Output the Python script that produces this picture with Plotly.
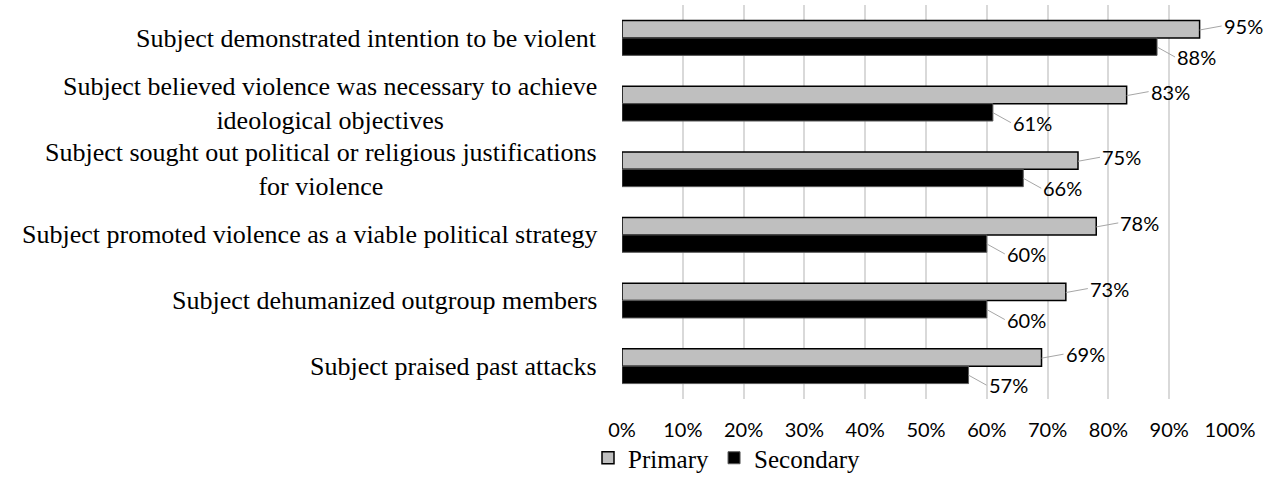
import plotly.graph_objects as go

categories = [
    "Subject demonstrated intention to be violent",
    "Subject believed violence was necessary to achieve<br>ideological objectives",
    "Subject sought out political or religious justifications<br>for violence",
    "Subject promoted violence as a viable political strategy",
    "Subject dehumanized outgroup members",
    "Subject praised past attacks",
]
primary = [95, 83, 75, 78, 73, 69]
secondary = [88, 61, 66, 60, 60, 57]
tick_vals = [0, 10, 20, 30, 40, 50, 60, 70, 80, 90, 100]
tick_text = [f"{v}%" for v in tick_vals]

fig = go.Figure()
fig.add_trace(go.Bar(
    name="Primary", y=categories, x=primary, orientation="h",
    marker=dict(color="#BFBFBF", line=dict(color="#000000", width=1.5)),
))
fig.add_trace(go.Bar(
    name="Secondary", y=categories, x=secondary, orientation="h",
    marker=dict(color="#000000", line=dict(color="#595959", width=1)),
))

sans = "Lato, Liberation Sans, sans-serif"
serif = "Liberation Serif, Times New Roman, serif"

annotations = []
for cat, p, s in zip(categories, primary, secondary):
    annotations.append(dict(
        x=p, y=cat, xref="x", yref="y", yshift=8, text=f"{p}%",
        showarrow=True, arrowhead=0, arrowwidth=1, arrowcolor="#A6A6A6",
        ax=22, ay=-4, xanchor="left", font=dict(family=sans, size=20, color="#000"),
    ))
    annotations.append(dict(
        x=s, y=cat, xref="x", yref="y", yshift=-9, text=f"{s}%",
        showarrow=True, arrowhead=0, arrowwidth=1, arrowcolor="#A6A6A6",
        ax=18, ay=10, xanchor="left", font=dict(family=sans, size=20, color="#000"),
    ))
    annotations.append(dict(
        x=0, y=cat, xref="paper", yref="y", xshift=-23, text=cat,
        showarrow=False, xanchor="right", align="center",
        font=dict(family=serif, size=26, color="#000"),
    ))

fig.update_layout(
    width=1280, height=496,
    margin=dict(l=622, r=50, t=5, b=97, autoexpand=False),
    paper_bgcolor="white", plot_bgcolor="white",
    barmode="group", bargap=0.47, bargroupgap=0,
    showlegend=True,
    legend=dict(orientation="h", x=588 / 1280, xref="container", xanchor="left",
                y=1 - 458 / 496, yref="container", yanchor="middle",
                bgcolor="rgba(0,0,0,0)",
                font=dict(family=serif, size=25, color="#000"),
                itemwidth=30, tracegroupgap=0,
                traceorder="normal"),
    annotations=annotations,
    xaxis=dict(range=[0, 100], tickvals=tick_vals, ticktext=tick_text,
               showgrid=True, gridcolor="#D9D9D9", gridwidth=1.5,
               zeroline=False, showline=False, ticklabelstandoff=17,
               tickfont=dict(family=sans, size=20, color="#000")),
    yaxis=dict(autorange="reversed", showticklabels=False, showgrid=False,
               zeroline=False, showline=False),
)

fig.write_html("out.html")
